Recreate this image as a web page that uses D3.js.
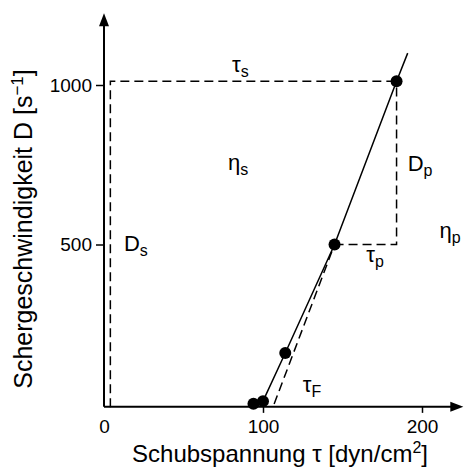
<!DOCTYPE html>
<html>
<head>
<meta charset="utf-8">
<script src="https://cdn.jsdelivr.net/npm/d3@7"></script>
<style>
  body { margin: 0; background: #fff; }
  svg { display: block; font-family: "Liberation Sans", Arial, sans-serif; }
</style>
</head>
<body>
<div id="chart"></div>
<script>
// measured points: shear stress tau, shear rate D
const tauPoints = [94, 100, 114, 145, 184];
const ratePoints = [1, 9, 160, 500, 1012];

// solid flow curve (through points, then extended)
const curveTau = [100, 114, 145, 184, 191];
const curveRate = [9, 160, 500, 1012, 1100];

// dashed extension of the linear part down to the yield stress
const tangentTau = [107, 145];
const tangentRate = [0, 500];

// dashed helper lines
const boxTau = [4, 4, 184];
const boxRate = [-10, 1012, 1012];
const stepTau = [145, 184, 184];
const stepRate = [500, 500, 1012];

const xTicks = [0, 100, 200];
const yTicks = [500, 1000];

const width = 465;
const height = 475;

const x = d3.scaleLinear().domain([0, 200]).range([104, 422]);
const y = d3.scaleLinear().domain([0, 1000]).range([404, 85]);
const xMax = 226;
const yMax = 1225;
const yBase = -9;

const svg = d3.select('#chart')
  .append('svg')
  .attr('width', width)
  .attr('height', height)
  .attr('viewBox', [0, 0, width, height]);

const line = d3.line().x(d => x(d[0])).y(d => y(d[1]));

// dashed helpers
const dashed = [
  d3.zip(boxTau, boxRate),
  d3.zip(stepTau, stepRate),
  d3.zip(tangentTau, tangentRate)
];
svg.append('g')
  .selectAll('path')
  .data(dashed)
  .join('path')
    .attr('d', line)
    .attr('fill', 'none')
    .attr('stroke', '#000')
    .attr('stroke-width', 1.5)
    .attr('stroke-dasharray', '9,5');

// flow curve
svg.append('path')
  .attr('d', line(d3.zip(curveTau, curveRate)))
  .attr('fill', 'none')
  .attr('stroke', '#000')
  .attr('stroke-width', 1.5);

// axes
const xAxis = g => g
  .attr('transform', `translate(0,${y(yBase)})`)
  .call(d3.axisBottom(x).tickValues(xTicks).tickSize(6).tickPadding(7).tickFormat(d3.format('d')))
  .call(g => g.select('.domain').remove())
  .call(g => g.selectAll('.tick').filter(d => d === 0).select('line').remove())
  .call(g => g.selectAll('.tick line').attr('stroke-width', 1.5))
  .call(g => g.selectAll('.tick text').attr('font-size', 19).attr('font-family', null).attr('fill', '#000'));

const yAxis = g => g
  .attr('transform', `translate(${x(0)},0)`)
  .call(d3.axisLeft(y).tickValues(yTicks).tickSize(8).tickPadding(4).tickFormat(d3.format('d')))
  .call(g => g.select('.domain').remove())
  .call(g => g.selectAll('.tick line').attr('stroke-width', 1.5))
  .call(g => g.selectAll('.tick text').attr('font-size', 19).attr('font-family', null).attr('fill', '#000'));

svg.append('g').call(xAxis);
svg.append('g').call(yAxis);

// axis lines with arrows
svg.append('line')
  .attr('x1', x(0)).attr('y1', y(yBase))
  .attr('x2', x(xMax) - 10).attr('y2', y(yBase))
  .attr('stroke', '#000').attr('stroke-width', 2);
svg.append('line')
  .attr('x1', x(0)).attr('y1', y(yBase))
  .attr('x2', x(0)).attr('y2', y(yMax) + 10)
  .attr('stroke', '#000').attr('stroke-width', 2);
svg.append('path')
  .attr('d', `M${x(xMax)},${y(yBase)} l-13,-5 l0,10 z`)
  .attr('fill', '#000');
svg.append('path')
  .attr('d', `M${x(0)},${y(yMax)} l-5,13 l10,0 z`)
  .attr('fill', '#000');

// points
svg.append('g')
  .selectAll('circle')
  .data(d3.zip(tauPoints, ratePoints))
  .join('circle')
    .attr('cx', d => x(d[0]))
    .attr('cy', d => y(d[1]))
    .attr('r', 6)
    .attr('fill', '#000');

// annotations
const labels = [
  {t: 'τ', s: 's', tau: 80.5, D: 1040},
  {t: 'η', s: 's', tau: 78, D: 735},
  {t: 'D', s: 'p', tau: 191, D: 730},
  {t: 'η', s: 'p', tau: 211, D: 520},
  {t: 'D', s: 's', tau: 12.5, D: 480},
  {t: 'τ', s: 'p', tau: 165, D: 445},
  {t: 'τ', s: 'F', tau: 125, D: 37}
];
const lab = svg.append('g')
  .selectAll('text')
  .data(labels)
  .join('text')
    .attr('x', d => x(d.tau))
    .attr('y', d => y(d.D))
    .attr('font-size', 22);
lab.append('tspan').text(d => d.t);
lab.append('tspan')
  .attr('font-size', 16)
  .attr('dy', 5)
  .text(d => d.s);

// axis titles
const xt = svg.append('text')
  .attr('x', 280)
  .attr('y', 462)
  .attr('text-anchor', 'middle')
  .attr('font-size', 24);
xt.append('tspan').text('Schubspannung τ [dyn/cm');
xt.append('tspan').attr('font-size', 16).attr('dy', -9).text('2');
xt.append('tspan').attr('dy', 9).text(']');

const yt = svg.append('text')
  .attr('transform', 'translate(32,229) rotate(-90)')
  .attr('text-anchor', 'middle')
  .attr('font-size', 25);
yt.append('tspan').text('Schergeschwindigkeit D [s');
yt.append('tspan').attr('font-size', 17).attr('dy', -9).text('−1');
yt.append('tspan').attr('dy', 9).text(']');
</script>
</body>
</html>
